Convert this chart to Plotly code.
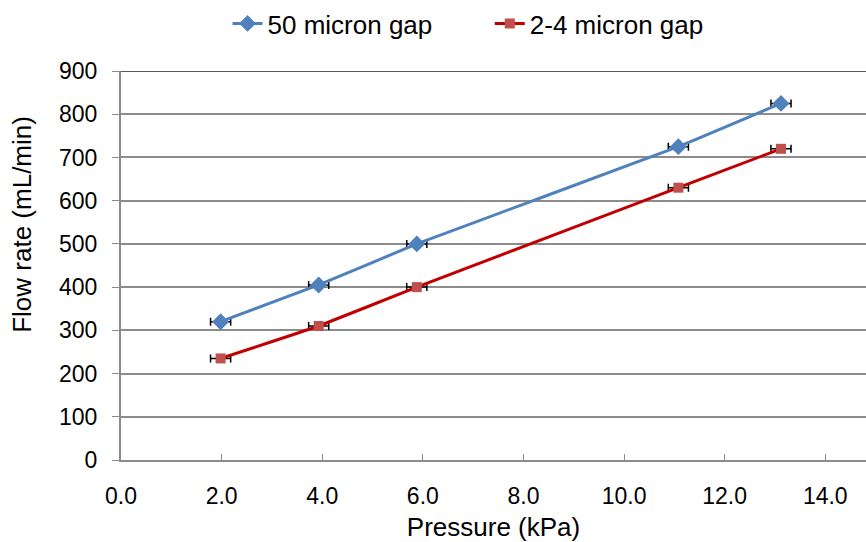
import plotly.graph_objects as go

pressure_50 = [1.98, 3.93, 5.88, 11.08, 13.12]
flow_50 = [320, 405, 500, 725, 825]
pressure_24 = [1.98, 3.93, 5.88, 11.08, 13.12]
flow_24 = [235, 310, 400, 630, 720]
pressure_err = [0.2, 0.2, 0.2, 0.2, 0.2]

x_ticks = [0, 2, 4, 6, 8, 10, 12, 14]
x_tick_text = ["0.0", "2.0", "4.0", "6.0", "8.0", "10.0", "12.0", "14.0"]
y_ticks = [0, 100, 200, 300, 400, 500, 600, 700, 800, 900]

font = "Liberation Sans, Arial, sans-serif"
fs = 23
fs_title = 26

fig = go.Figure()
fig.add_trace(go.Scatter(
    x=pressure_50, y=flow_50, mode="lines+markers", name="50 micron gap",
    line=dict(color="#4F81BD", width=3, shape="spline", smoothing=0.3),
    marker=dict(symbol="diamond", size=13, color="#4F81BD"),
    error_x=dict(type="data", array=pressure_err, color="black", thickness=1.5, width=4),
    legend="legend",
))
fig.add_trace(go.Scatter(
    x=pressure_24, y=flow_24, mode="lines+markers", name="2-4 micron gap",
    line=dict(color="#C00000", width=3, shape="spline", smoothing=0.3),
    marker=dict(symbol="square", size=10, color="#C0504D"),
    error_x=dict(type="data", array=pressure_err, color="black", thickness=1.5, width=4),
    legend="legend2",
))

legend_common = dict(orientation="h", y=1.0, yanchor="top", yref="container",
                     xanchor="left", font=dict(size=fs_title), bgcolor="rgba(0,0,0,0)")

fig.update_layout(
    width=866, height=542,
    margin=dict(l=121, r=0, t=71, b=82),
    paper_bgcolor="white", plot_bgcolor="white",
    font=dict(family=font, size=fs, color="black"),
    legend=dict(legend_common, x=0.143),
    legend2=dict(legend_common, x=0.495),
    showlegend=True,
)
fig.update_xaxes(
    range=[0, 14.81], tickvals=x_ticks, ticktext=x_tick_text,
    showgrid=False, zeroline=False,
    showline=True, linecolor="#8C8C8C", linewidth=2,
    ticks="inside", ticklen=6, tickcolor="#8C8C8C", tickwidth=1,
    ticklabelstandoff=14,
    title=dict(text="Pressure (kPa)", font=dict(size=fs_title), standoff=11),
    tickfont=dict(size=fs),
)
fig.update_yaxes(
    range=[0, 900], tickvals=y_ticks,
    showgrid=True, gridcolor="#8C8C8C", gridwidth=1.5, zeroline=False,
    showline=True, linecolor="#8C8C8C", linewidth=2,
    ticks="outside", ticklen=7, tickcolor="#8C8C8C",
    ticklabelstandoff=10,
    tickfont=dict(size=fs),
)
# y-axis title, placed a little above the middle of the axis
fig.add_annotation(text="Flow rate (mL/min)", textangle=-90, showarrow=False,
                   xref="paper", yref="paper", x=-0.133, y=0.607,
                   xanchor="center", yanchor="middle", font=dict(size=fs_title))
# dark border along the top of the plotting area
fig.add_shape(type="line", xref="paper", yref="y", x0=0, x1=1, y0=900, y1=900,
              line=dict(color="#222222", width=1.5))

fig.write_html("out.html")
